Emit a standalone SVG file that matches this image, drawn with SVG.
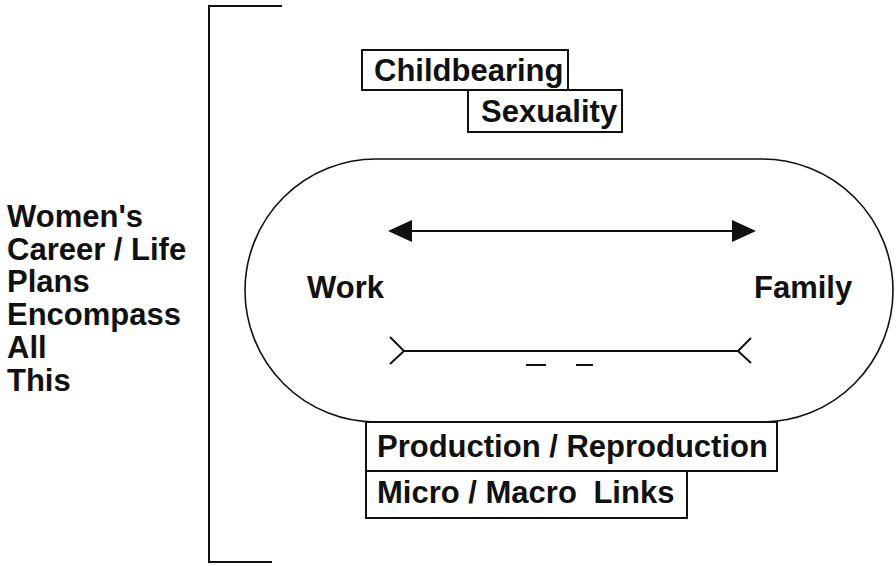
<svg xmlns="http://www.w3.org/2000/svg" width="896" height="566" viewBox="0 0 896 566">
<style>
  .t { font-family: "Liberation Sans", Arial, Helvetica, sans-serif; font-weight: bold; font-size: 31px; fill: #111; }
  .box { fill: #fff; stroke: #111; stroke-width: 2; }
  .ln { fill: none; stroke: #111; stroke-width: 2; }
  .thin { fill: none; stroke: #111; stroke-width: 1.6; }
</style>
<defs>
  <marker id="ah" viewBox="0 0 24 24" refX="22" refY="12" markerWidth="24" markerHeight="24" markerUnits="userSpaceOnUse" orient="auto-start-reverse">
    <path d="M0,1 L24,12 L0,23 Z" fill="#111"/>
  </marker>
</defs>
<rect width="896" height="566" fill="#fff"/>

<g id="bracket">
  <path class="ln" d="M282,6 H209 V562 H272" stroke-width="2.5"/>
</g>

<g id="plans-label">
  <text class="t" x="7" y="227">Women's</text>
  <text class="t" x="7" y="260">Career / Life</text>
  <text class="t" x="7" y="292">Plans</text>
  <text class="t" x="7" y="325">Encompass</text>
  <text class="t" x="7" y="358">All</text>
  <text class="t" x="7" y="391">This</text>
</g>

<g id="childbearing">
  <rect class="box" x="362" y="50" width="206" height="40"/>
  <text class="t" x="374" y="81">Childbearing</text>
</g>

<g id="sexuality">
  <rect class="box" x="468" y="90" width="154" height="42"/>
  <text class="t" x="481" y="122">Sexuality</text>
</g>

<g id="stadium">
  <rect class="thin" x="245" y="159" width="648" height="263" rx="131" ry="131.5"/>
</g>

<g id="work">
  <text class="t" x="307" y="298">Work</text>
</g>

<g id="family">
  <text class="t" x="754" y="298">Family</text>
</g>

<g id="connectors">
  <line class="ln" x1="390" y1="231" x2="754" y2="231" marker-start="url(#ah)" marker-end="url(#ah)"/>
  <line class="ln" x1="404" y1="351" x2="738" y2="351"/>
  <path class="ln" d="M390,337 L404,351 L390,364"/>
  <path class="ln" d="M751,338 L738,351 L751,363"/>
  <line class="ln" x1="526" y1="365" x2="546" y2="365"/>
  <line class="ln" x1="576" y1="365" x2="593" y2="365"/>
</g>

<g id="production">
  <rect class="box" x="366" y="422" width="411" height="49"/>
  <text class="t" x="377" y="457">Production / Reproduction</text>
</g>

<g id="micro-macro">
  <rect class="box" x="366" y="471" width="321" height="47"/>
  <text class="t" x="377" y="503">Micro / Macro <tspan dx="8">Links</tspan></text>
</g>
</svg>
